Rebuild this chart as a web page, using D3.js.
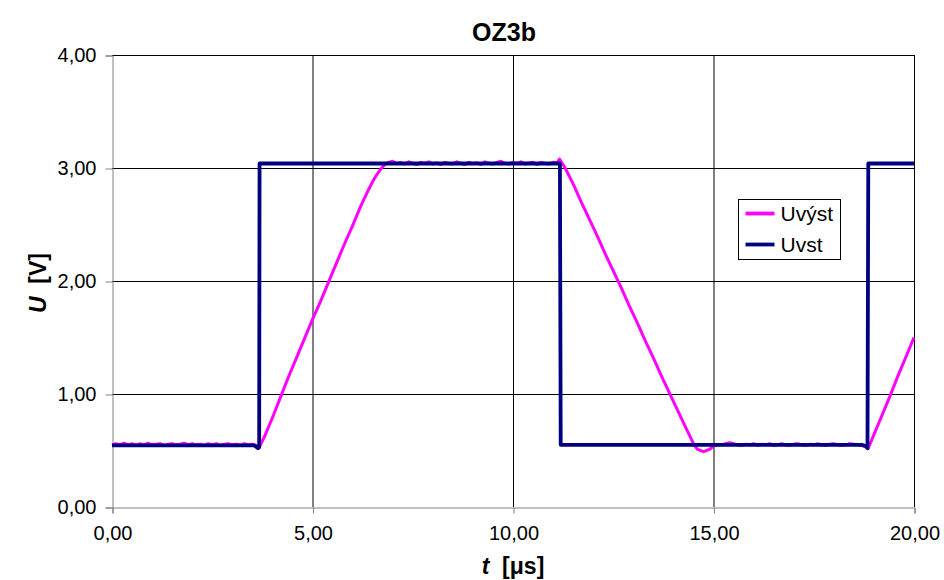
<!DOCTYPE html>
<html><head><meta charset="utf-8">
<script src="https://cdn.jsdelivr.net/npm/d3@7"></script>
<style>body{margin:0;background:#fff;} text{font-family:"Liberation Sans",Arial,sans-serif;}</style>
</head><body>
<svg id="c" width="944" height="580"></svg>
<script>
const title = "OZ3b";
const xTicks = [0, 5, 10, 15, 20];
const yTicks = [0, 1, 2, 3, 4];
const seriesNames = ["Uvýst", "Uvst"];
const seriesColors = ["#FF00FF", "#000080"];
// Uvst (input) [t μs, U V]
const uvstT = [0, 1.8, 3.55, 3.64, 3.67, 3.68, 11.15, 11.17, 11.19, 18.7, 18.8, 18.84, 18.86, 20];
const uvstU = [0.545, 0.545, 0.545, 0.52, 0.53, 3.04, 3.04, 3.04, 0.55, 0.55, 0.54, 0.52, 3.04, 3.04];
// Uvýst (output) [t μs, U V]
const uvystT = [0.0,0.1,0.2,0.3,0.4,0.5,0.6,0.7,0.8,0.9,1.0,1.1,1.2,1.3,1.4,1.5,1.6,1.7,1.8,1.9,2.0,2.1,2.2,2.3,2.4,2.5,2.6,2.7,2.8,2.9,3.0,3.1,3.2,3.3,3.4,3.5,3.6,3.66,
 3.8,4.0,4.2,4.4,4.6,4.8,5.0,5.2,5.4,5.6,5.8,6.0,6.2,6.4,6.5,6.6,6.7,6.8,6.9,7.0,
 7.1,7.2,7.3,7.4,7.5,7.6,7.7,7.8,7.9,8.0,8.1,8.2,8.3,8.4,8.5,8.6,8.7,8.8,8.9,9.0,9.1,9.2,9.3,9.4,9.5,9.6,9.7,9.8,9.9,10.0,10.1,10.2,10.3,10.4,10.5,10.6,10.7,10.8,10.9,11.0,11.1,11.16,
 11.3,11.5,11.7,11.9,12.1,12.3,12.5,12.7,12.9,13.1,13.3,13.5,13.7,13.9,14.1,14.3,14.5,14.6,14.75,14.9,15.0,
 15.1,15.2,15.3,15.4,15.5,15.6,15.7,15.8,15.9,16.0,16.1,16.2,16.3,16.4,16.5,16.6,16.7,16.8,16.9,17.0,17.1,17.2,17.3,17.4,17.5,17.6,17.7,17.8,17.9,18.0,18.1,18.2,18.3,18.4,18.5,18.6,18.7,18.8,18.86,
 19.0,19.2,19.4,19.6,19.8,20.0];
const uvystU = [0.55,0.56,0.55,0.565,0.55,0.56,0.545,0.56,0.55,0.565,0.55,0.555,0.56,0.545,0.555,0.56,0.55,0.555,0.565,0.55,0.56,0.55,0.555,0.545,0.56,0.55,0.56,0.545,0.555,0.56,0.55,0.555,0.545,0.56,0.55,0.555,0.545,0.52,
 0.62,0.79,0.97,1.15,1.32,1.49,1.66,1.82,1.99,2.16,2.33,2.49,2.66,2.81,2.88,2.94,2.99,3.03,3.05,3.06,
 3.04,3.05,3.035,3.055,3.04,3.03,3.05,3.04,3.055,3.035,3.045,3.03,3.05,3.04,3.035,3.055,3.04,3.03,3.05,3.04,3.045,3.03,3.055,3.04,3.035,3.05,3.06,3.04,3.035,3.05,3.04,3.055,3.035,3.045,3.05,3.03,3.05,3.04,3.035,3.05,3.045,3.08,
 3.00,2.86,2.70,2.55,2.40,2.24,2.09,1.94,1.78,1.63,1.47,1.32,1.16,1.01,0.86,0.71,0.56,0.51,0.49,0.51,0.54,
 0.55,0.55,0.56,0.57,0.56,0.55,0.545,0.555,0.55,0.56,0.545,0.555,0.55,0.56,0.545,0.55,0.56,0.55,0.545,0.555,0.56,0.55,0.545,0.555,0.55,0.56,0.55,0.545,0.555,0.56,0.55,0.545,0.55,0.56,0.555,0.55,0.545,0.53,0.52,
 0.64,0.81,0.98,1.16,1.33,1.50];

const svg = d3.select("#c");
const L = 112, R = 914, T = 55, B = 507;
const x = d3.scaleLinear().domain([0, 20]).range([L, R]);
const y = d3.scaleLinear().domain([0, 4]).range([B, T]);
const fmt = v => d3.format(".2f")(v).replace(".", ",");

// gridlines
svg.append("g").selectAll("line.h").data(yTicks.filter(v => v > 0)).join("line")
  .attr("x1", L).attr("x2", R).attr("y1", d => y(d) + 0.5).attr("y2", d => y(d) + 0.5)
  .attr("stroke", "#000").attr("stroke-width", 1);
svg.append("g").selectAll("line.v").data(xTicks.filter(v => v > 0)).join("line")
  .attr("y1", T).attr("y2", B).attr("x1", d => x(d) + 0.5).attr("x2", d => x(d) + 0.5)
  .attr("stroke", "#000").attr("stroke-width", 1);

// axes
const yAxis = d3.axisLeft(y).tickValues(yTicks).tickFormat(fmt).tickSize(7).tickPadding(9);
const gy = svg.append("g").attr("transform", `translate(${L + 0.5},0.5)`).call(yAxis);
const xAxis = d3.axisBottom(x).tickValues(xTicks).tickFormat(fmt).tickSize(6).tickPadding(12);
const gx = svg.append("g").attr("transform", `translate(0.5,${B + 0.5})`).call(xAxis);
[gx, gy].forEach(g => {
  g.select(".domain").attr("stroke", "#808080");
  g.selectAll(".tick line").attr("stroke", "#808080");
  g.selectAll(".tick text").attr("font-family", "Liberation Sans, Arial, sans-serif").attr("font-size", 20).attr("fill", "#000");
});

// lines
const line = d3.line().x(d => x(d[0])).y(d => y(d[1]));
const uvyst = uvystT.map((t, i) => [t, uvystU[i]]);
const uvst = uvstT.map((t, i) => [t, uvstU[i]]);
svg.append("path").datum(uvyst).attr("d", line).attr("fill", "none")
  .attr("stroke", seriesColors[0]).attr("stroke-width", 3).attr("stroke-linejoin", "round");
svg.append("path").datum(uvst).attr("d", line).attr("fill", "none")
  .attr("stroke", seriesColors[1]).attr("stroke-width", 3.8).attr("stroke-linejoin", "round");

// title
svg.append("text").attr("x", 504).attr("y", 41).attr("text-anchor", "middle")
  .attr("font-size", 25).attr("font-weight", "bold").text(title);

// axis titles
const xt = svg.append("text").attr("x", 513).attr("y", 574).attr("text-anchor", "middle")
  .attr("font-size", 23).attr("font-weight", "bold").style("white-space", "pre");
xt.append("tspan").attr("font-style", "italic").text("t");
xt.append("tspan").text("  [μs]");
const yt = svg.append("text").attr("transform", "translate(46,283) rotate(-90)").attr("text-anchor", "middle")
  .attr("font-size", 23).attr("font-weight", "bold").style("white-space", "pre");
yt.append("tspan").attr("font-style", "italic").text("U");
yt.append("tspan").text("  [V]");

// legend
const lg = svg.append("g").attr("transform", "translate(738.5,199.5)");
lg.append("rect").attr("width", 102).attr("height", 60).attr("fill", "#fff").attr("stroke", "#000").attr("stroke-width", 1);
seriesNames.forEach((n, i) => {
  const yy = 14 + i * 31;
  lg.append("line").attr("x1", 7).attr("x2", 36).attr("y1", yy).attr("y2", yy)
    .attr("stroke", seriesColors[i]).attr("stroke-width", 3.8);
  lg.append("text").attr("x", 42).attr("y", yy + 7).attr("font-size", 21).text(n);
});
</script>
</body></html>
